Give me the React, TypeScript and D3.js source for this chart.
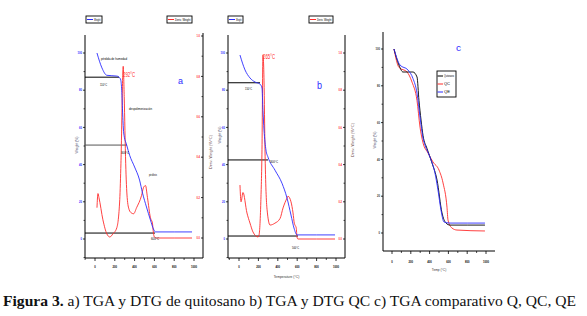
import React from 'react';
import * as d3 from 'd3';

const W = 587;
const H = 316;

// ---------- tick values ----------
const tempTicks = [0, 200, 400, 600, 800, 1000];
const tempMinor = [-100, 100, 300, 500, 700, 900];
const weightTicks = [0, 20, 40, 60, 80, 100];
const weightMinor = [-10, 10, 30, 50, 70, 90, 110];
const derivTicks = [0, 0.2, 0.4, 0.6, 0.8, 1.0];
const derivMinor = [0.1, 0.3, 0.5, 0.7, 0.9];

// ---------- panel a: quitosano ----------
const tempA_tga = [20, 70, 120, 220, 250, 260, 270, 280, 290, 320, 350, 400, 450, 480, 520, 560, 590, 610, 800, 980];
const weightA = [100, 92, 88, 87.6, 86.6, 85.5, 80, 66.7, 57, 50.5, 45, 38.7, 31.7, 24.7, 17.2, 10.2, 5.4, 3.8, 3.8, 3.8];
const tempA_dtg = [20, 30, 40, 80, 120, 150, 180, 220, 250, 262, 285, 295, 310, 325, 345, 365, 390, 420, 470, 490, 510, 530, 560, 580, 590, 600, 620, 800, 980];
const derivA = [0.15, 0.22, 0.2, 0.09, 0.02, 0.005, 0.02, 0.05, 0.19, 0.37, 0.85, 0.7, 0.37, 0.2, 0.14, 0.125, 0.12, 0.15, 0.21, 0.25, 0.26, 0.2, 0.1, 0.074, 0.025, 0.005, 0, 0, 0];

// ---------- panel b: QC ----------
const tempB_tga = [10, 62, 113, 165, 216, 237, 247, 258, 278, 299, 371, 443, 495, 536, 567, 598, 800, 990];
const weightB = [98.9, 90.9, 86.6, 84.4, 83.3, 81.2, 69, 58.6, 47.8, 44, 37, 30, 22, 12.9, 5.9, 2.2, 2.2, 2.2];
const tempB_dtg = [10, 21, 41, 82, 113, 144, 196, 206, 225, 237, 247, 258, 268, 289, 320, 370, 423, 454, 495, 505, 536, 557, 570, 577, 590, 598, 608, 800, 990];
const derivB = [0.29, 0.2, 0.25, 0.14, 0.086, 0.038, 0.011, 0.02, 0.2, 0.48, 0.99, 0.85, 0.48, 0.16, 0.075, 0.085, 0.11, 0.167, 0.22, 0.23, 0.2, 0.14, 0.085, 0.075, 0.06, 0.01, 0, 0, 0];

// ---------- panel c: comparativo ----------
const tempC_q = [21, 74, 117, 223, 266, 287, 309, 330, 372, 426, 479, 532, 574, 617, 800, 989];
const weightC_q = [100, 91.3, 87.5, 87.5, 84.8, 72, 61.4, 53, 46, 38, 28.8, 10.9, 5.4, 4.3, 4.3, 4.3];
const tempC_qc = [21, 74, 160, 213, 266, 298, 330, 383, 436, 500, 543, 585, 596, 638, 691, 989];
const weightC_qc = [100, 90, 87.5, 82, 72, 57.6, 49, 43.5, 38.6, 34.2, 27.2, 14, 7, 2.7, 1.6, 1.1];
const tempC_qe = [21, 85, 170, 223, 266, 298, 330, 351, 404, 457, 489, 521, 553, 617, 800, 989];
const weightC_qe = [100, 91.3, 88.6, 84, 76, 63, 51.6, 47.8, 41.3, 32.6, 23.4, 12.5, 6, 5.4, 5.4, 5.4];

const legendC = ['Quitosano', 'QC', 'QE'];
const captionBold = 'Figura 3.';
const captionRest = ' a) TGA y DTG de quitosano b) TGA y DTG QC c) TGA comparativo Q, QC, QE';

const BLUE = '#2b2bff';
const RED = '#ff2b2b';
const SANS = '"Liberation Sans", Arial, sans-serif';

type Sc = d3.ScaleLinear<number, number>;

const zip = (xs: number[], ys: number[]) => xs.map((x, i) => [x, ys[i]] as [number, number]);

function path(x: Sc, y: Sc, xs: number[], ys: number[]) {
  return d3.line<[number, number]>().x(d => x(d[0])).y(d => y(d[1])).curve(d3.curveMonotoneX)(zip(xs, ys)) || '';
}

function fmtDeriv(v: number) { return v.toFixed(1); }

function BottomAxis({ x, x0, x1, y0, title, labelOff = 9 }: { x: Sc; x0: number; x1: number; y0: number; title?: string; labelOff?: number }) {
  return (
    <g>
      <line x1={x0} x2={x1} y1={y0} y2={y0} stroke="#000" strokeWidth={1} />
      {tempTicks.map(t => (
        <g key={t}>
          <line x1={x(t)} x2={x(t)} y1={y0} y2={y0 + 3} stroke="#000" strokeWidth={0.8} />
          <text x={x(t)} y={y0 + labelOff} fontSize={4.2} fontWeight="bold" textAnchor="middle" dominantBaseline="middle" fontFamily={SANS}
            textLength={String(t).length * 1.5} lengthAdjust="spacingAndGlyphs">{t}</text>
        </g>
      ))}
      {tempMinor.filter(t => x(t) >= x0 && x(t) <= x1).map(t => (
        <line key={'m' + t} x1={x(t)} x2={x(t)} y1={y0} y2={y0 + 2} stroke="#000" strokeWidth={0.7} />
      ))}
      {title && (
        <text x={(x0 + x1) / 2} y={y0 + 20} fontSize={4.2} textAnchor="middle" fontFamily={SANS} fill="#333"
          textLength={title.length * 1.6} lengthAdjust="spacingAndGlyphs">{title}</text>
      )}
    </g>
  );
}

function LeftAxis({ y, x0, y0, y1, title, titleY, color }: { y: Sc; x0: number; y0: number; y1: number; title: string; titleY: number; color: string }) {
  return (
    <g>
      <line x1={x0} x2={x0} y1={y0} y2={y1} stroke="#000" strokeWidth={1} />
      {weightTicks.map(t => (
        <g key={t}>
          <line x1={x0 - 2} x2={x0} y1={y(t)} y2={y(t)} stroke="#000" strokeWidth={0.8} />
          <text x={x0 - 3} y={y(t)} fontSize={4.2} fontWeight="bold" textAnchor="end" dominantBaseline="middle" fill={color} fontFamily={SANS}
            textLength={String(t).length * 1.5} lengthAdjust="spacingAndGlyphs">{t}</text>
        </g>
      ))}
      {weightMinor.filter(t => y(t) >= y0 && y(t) <= y1).map(t => (
        <line key={'m' + t} x1={x0 - 1.5} x2={x0} y1={y(t)} y2={y(t)} stroke="#000" strokeWidth={0.7} />
      ))}
      <text transform={`translate(${x0 - 8.5},${titleY}) rotate(-90)`} fontSize={4} textAnchor="middle" dominantBaseline="middle" fill="#446" fontFamily={SANS}
        textLength={title.length * 1.7} lengthAdjust="spacingAndGlyphs">{title}</text>
    </g>
  );
}

function RightAxis({ y, x0, y0, y1, title, titleY }: { y: Sc; x0: number; y0: number; y1: number; title: string; titleY: number }) {
  return (
    <g>
      <line x1={x0} x2={x0} y1={y0} y2={y1} stroke="#000" strokeWidth={1} />
      {derivTicks.map(t => (
        <g key={t}>
          <line x1={x0 - 2} x2={x0} y1={y(t)} y2={y(t)} stroke="#000" strokeWidth={0.8} />
          <text x={x0 - 3} y={y(t)} fontSize={4.2} fontWeight="bold" textAnchor="end" dominantBaseline="middle" fill={RED} fontFamily={SANS}
            textLength={3.5} lengthAdjust="spacingAndGlyphs">{fmtDeriv(t)}</text>
        </g>
      ))}
      {derivMinor.map(t => (
        <line key={'m' + t} x1={x0 - 1.5} x2={x0} y1={y(t)} y2={y(t)} stroke="#000" strokeWidth={0.7} />
      ))}
      <text transform={`translate(${x0 + 8},${titleY}) rotate(-90)`} fontSize={4} textAnchor="middle" dominantBaseline="middle" fill="#644" fontFamily={SANS}
        textLength={title.length * 1.7} lengthAdjust="spacingAndGlyphs">{title}</text>
    </g>
  );
}

function Legend({ x, y, w, label, color }: { x: number; y: number; w: number; label: string; color: string }) {
  return (
    <g>
      <rect x={x} y={y} width={w} height={7} fill="#fff" stroke="#000" strokeWidth={0.9} />
      <line x1={x + 1} x2={x + 7} y1={y + 3.5} y2={y + 3.5} stroke={color} strokeWidth={1} />
      <text x={x + 8} y={y + 3.7} fontSize={4} dominantBaseline="middle" fontFamily={SANS}
        textLength={w - 9.5} lengthAdjust="spacingAndGlyphs">{label}</text>
    </g>
  );
}

function Note({ x, y, text, w, size = 4, color = '#000' }: { x: number; y: number; text: string; w: number; size?: number; color?: string }) {
  return (
    <text x={x} y={y} fontSize={size} fill={color} fontFamily={SANS} textLength={w} lengthAdjust="spacingAndGlyphs">{text}</text>
  );
}

export default function App() {
  // panel a scales
  const xA = d3.scaleLinear().domain([0, 1000]).range([95, 194]);
  const yA = d3.scaleLinear().domain([0, 100]).range([239, 53]);
  const rA = d3.scaleLinear().domain([0, 1]).range([238, 36]);
  // panel b scales
  const xB = d3.scaleLinear().domain([0, 1000]).range([239, 336]);
  const yB = d3.scaleLinear().domain([0, 100]).range([239, 53]);
  const rB = d3.scaleLinear().domain([0, 1]).range([239, 53]);
  // panel c scales
  const xC = d3.scaleLinear().domain([0, 1000]).range([392, 486]);
  const yC = d3.scaleLinear().domain([0, 100]).range([233, 49]);

  return (
    <svg width={W} height={H} viewBox={`0 0 ${W} ${H}`} style={{ position: 'absolute', left: 0, top: 0, background: '#fff' }}>
      <rect width={W} height={H} fill="#fff" />

      {/* ---------- panel a ---------- */}
      <Legend x={86} y={16} w={16} label="Weight" color={BLUE} />
      <Legend x={167} y={16} w={25} label="Deriv. Weight" color={RED} />
      <LeftAxis y={yA} x0={85} y0={35} y1={258} title="Weight (%)" titleY={145} color={BLUE} />
      <RightAxis y={rA} x0={203} y0={33} y1={258} title="Deriv. Weight (%/°C)" titleY={152} />
      <BottomAxis x={xA} x0={85} x1={203} y0={258} />
      <line x1={85} x2={119} y1={yA(87)} y2={yA(87)} stroke="#000" strokeWidth={1} />
      <line x1={85} x2={127} y1={yA(50.5)} y2={yA(50.5)} stroke="#555" strokeWidth={1} />
      <line x1={85} x2={155} y1={yA(3.2)} y2={yA(3.2)} stroke="#000" strokeWidth={1} />
      <path d={path(xA, rA, tempA_dtg, derivA)} fill="none" stroke={RED} strokeWidth={0.9} />
      <path d={path(xA, yA, tempA_tga, weightA)} fill="none" stroke={BLUE} strokeWidth={0.9} />
      <Note x={101} y={60} text="pérdida de humedad" w={26} size={3.8} />
      <Note x={100} y={86} text="110°C" w={7} size={3.8} />
      <Note x={123} y={77} text="292°C" w={12} size={7} color={RED} />
      <Note x={129} y={110} text="despolimerización" w={23} size={3.8} />
      <Note x={121} y={154} text="300°C" w={8} size={3.8} />
      <Note x={149} y={176} text="pirólisis" w={8} size={3.8} />
      <Note x={151} y={240} text="600°C" w={8} size={3.8} />
      <text x={178} y={84} fontSize={9} fill={BLUE} fontFamily={SANS} textLength={5} lengthAdjust="spacingAndGlyphs">a</text>

      {/* ---------- panel b ---------- */}
      <Legend x={228} y={16} w={15} label="Weight" color={BLUE} />
      <Legend x={309} y={16} w={24} label="Deriv. Weight" color={RED} />
      <LeftAxis y={yB} x0={228} y0={35} y1={258} title="Weight (%)" titleY={135} color={BLUE} />
      <RightAxis y={rB} x0={345} y0={35} y1={258} title="Deriv. Weight (%/°C)" titleY={140} />
      <BottomAxis x={xB} x0={228} x1={345} y0={258} title="Temperature (°C)" />
      <line x1={228} x2={260} y1={yB(84)} y2={yB(84)} stroke="#000" strokeWidth={1} />
      <line x1={228} x2={268} y1={yB(42.5)} y2={yB(42.5)} stroke="#000" strokeWidth={1} />
      <line x1={228} x2={298} y1={yB(1.6)} y2={yB(1.6)} stroke="#000" strokeWidth={1} />
      <path d={path(xB, rB, tempB_dtg, derivB)} fill="none" stroke={RED} strokeWidth={0.9} />
      <path d={path(xB, yB, tempB_tga, weightB)} fill="none" stroke={BLUE} strokeWidth={0.9} />
      <Note x={245} y={90} text="150°C" w={7} size={3.8} />
      <Note x={263} y={59} text="265°C" w={12} size={8} color={RED} />
      <Note x={270} y={163} text="300°C" w={8} size={3.8} />
      <Note x={292} y={249} text="500°C" w={7} size={3.8} />
      <text x={317} y={89} fontSize={10} fill={BLUE} fontFamily={SANS} textLength={5} lengthAdjust="spacingAndGlyphs">b</text>

      {/* ---------- panel c ---------- */}
      <LeftAxis y={yC} x0={383} y0={32} y1={251} title="Weight (%)" titleY={140} color="#333" />
      <BottomAxis x={xC} x1={495} x0={383} y0={251} title="Temp (°C)" labelOff={11} />
      <path d={path(xC, yC, tempC_qc, weightC_qc)} fill="none" stroke={RED} strokeWidth={0.9} />
      <path d={path(xC, yC, tempC_q, weightC_q)} fill="none" stroke="#000" strokeWidth={0.9} />
      <path d={path(xC, yC, tempC_qe, weightC_qe)} fill="none" stroke={BLUE} strokeWidth={0.9} />
      <rect x={437} y={71} width={19} height={26} fill="#fff" stroke="#000" strokeWidth={0.9} />
      {legendC.map((l, i) => (
        <g key={l}>
          <line x1={437.5} x2={443} y1={76 + i * 8} y2={76 + i * 8} stroke={['#000', RED, BLUE][i]} strokeWidth={1} />
          <text x={444} y={76.3 + i * 8} fontSize={3.8} dominantBaseline="middle" fontFamily={SANS}
            textLength={i === 0 ? 10 : 6} lengthAdjust="spacingAndGlyphs">{l}</text>
        </g>
      ))}
      <text x={456} y={51} fontSize={9} fill={BLUE} fontFamily={SANS} textLength={5} lengthAdjust="spacingAndGlyphs">c</text>

      {/* ---------- caption ---------- */}
      <text x={3} y={306} fontSize={15.6} fontFamily={'"Liberation Serif", "Times New Roman", serif'} fill="#111">
        <tspan fontWeight="bold">{captionBold}</tspan>
        <tspan>{captionRest}</tspan>
      </text>
    </svg>
  );
}
